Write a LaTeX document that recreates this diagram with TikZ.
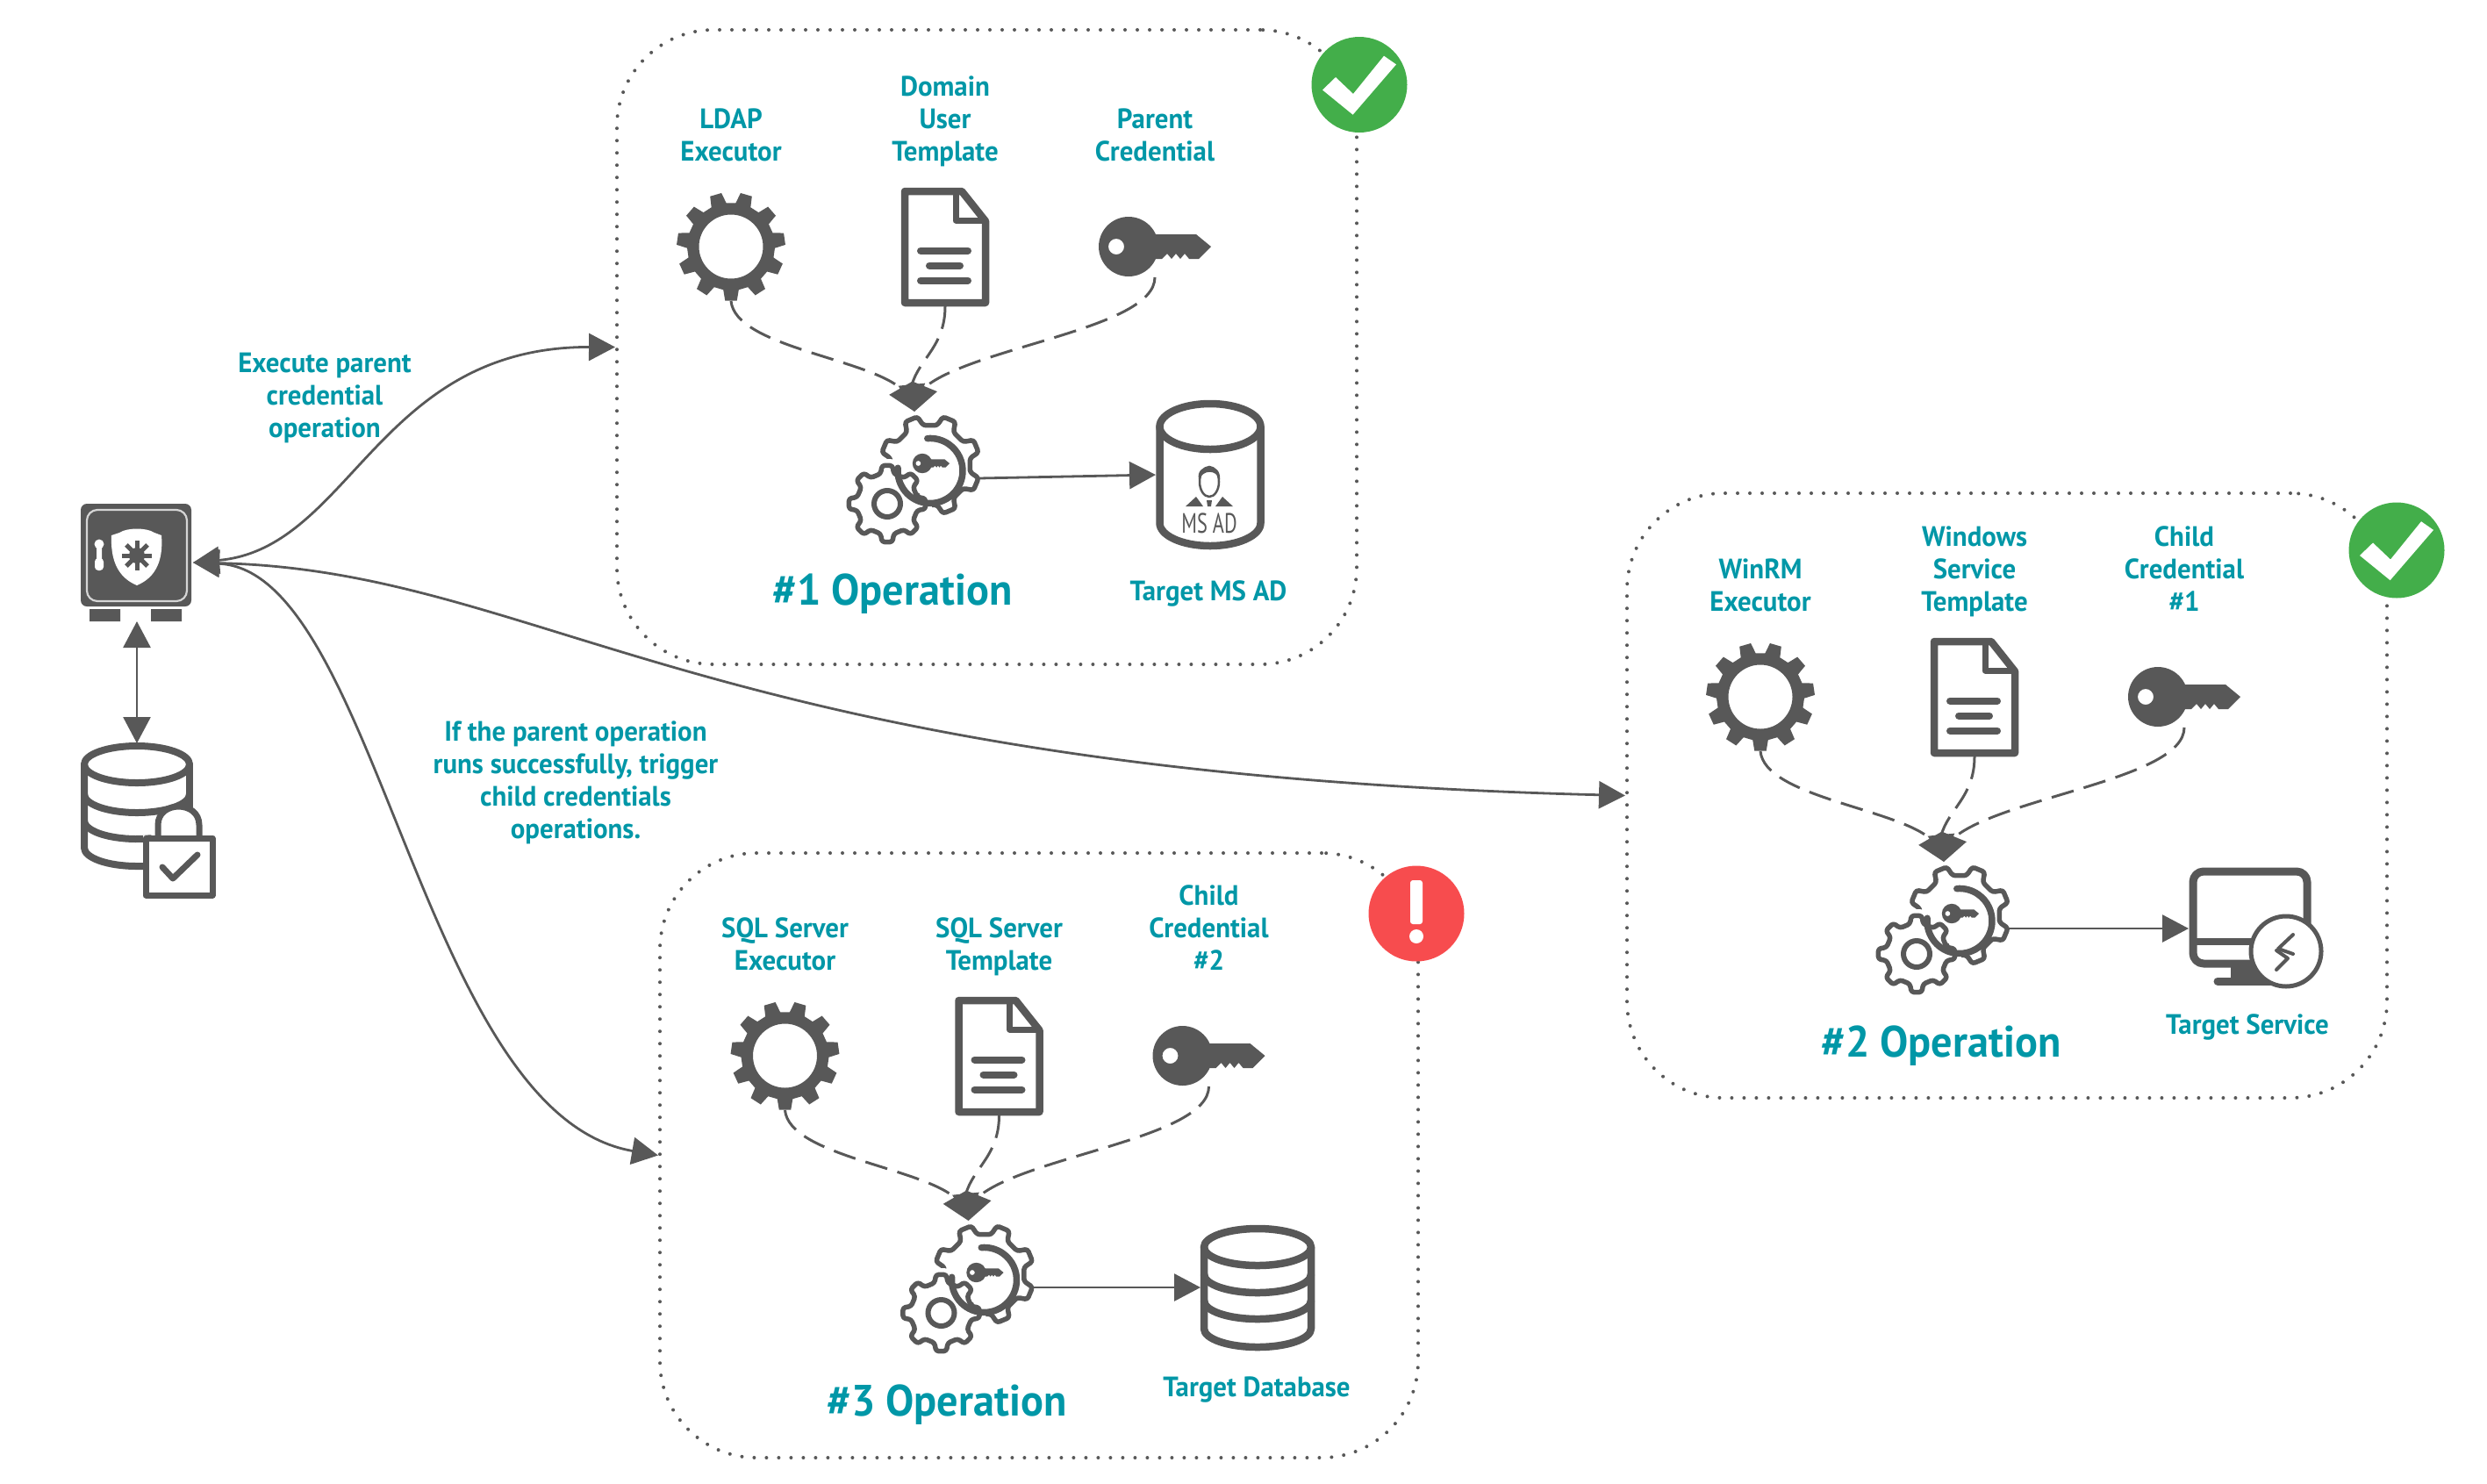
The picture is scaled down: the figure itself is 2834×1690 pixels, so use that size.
\documentclass[tikz,border=0pt]{standalone}
\usepackage{fontspec}
\usetikzlibrary{arrows.meta,calc}
\setmainfont{PT Sans}
\newfontfamily\labfont[FakeStretch=0.965]{PT Sans}
\definecolor{ink}{HTML}{585858}
\definecolor{teal}{HTML}{0097A7}
\definecolor{okgreen}{HTML}{43AE4A}
\definecolor{alertred}{HTML}{F74C4E}
\tikzset{
  hd/.tip={Triangle[length=30pt,width=31pt]},
  hdsmall/.tip={Triangle[length=31pt,width=30pt]},
  conn/.style={draw=ink,line width=2.8pt},
  dashconn/.style={draw=ink,line width=3pt,dash pattern=on 26pt off 12pt,-{hdsmall}},
  opframe/.style={draw=ink,line width=4pt,line cap=round,dash pattern=on 0pt off 14pt,rounded corners=110pt,inner sep=0pt},
  slot/.style={inner sep=0pt,outer sep=0pt},
  lab/.style={text=teal,font=\labfont\bfseries\fontsize{32}{37}\selectfont,align=center,inner sep=0pt},
  optitle/.style={text=teal,font=\labfont\bfseries\fontsize{50}{56}\selectfont,inner sep=0pt},
  ico/.style={draw=ink,line width=8.5pt,line join=round,line cap=round},
  ico2/.style={draw=ink,line width=5.5pt,line join=round,line cap=round},
}
% gear outline: n, outer, root, rotation, tooth half-width at tip, at root
\newcommand\gearring[6]{%
  (#4-#6*360/#1:#3)
  \foreach \k in {1,...,#1}{
    -- (#4+\k*360/#1-360/#1-#5*360/#1:#2)
    -- (#4+\k*360/#1-360/#1+#5*360/#1:#2)
    -- (#4+\k*360/#1-360/#1+#6*360/#1:#3)
    -- (#4+\k*360/#1-#6*360/#1:#3)
  } -- cycle}
\newcommand\drawkey{%
  \fill[ink,even odd rule] (0,0) circle (34pt) (-14,0) circle (9pt);
  \fill[ink] (20,-14) -- (77,-14) -- (94,0) -- (80,14) -- (69,14) -- (64,8) -- (59,14) -- (54,8) -- (49,14) -- (44,8) -- (38,14) -- (20,14) -- cycle;
}
% one operation's icons: prefix, dx, dy, three labels
\newcommand\opicons[6]{%
\begin{scope}[shift={(#2,#3)}]
  \node[slot,minimum width=122pt,minimum height=124pt] (#1-gear) at (833,281) {};
  \node[slot,minimum width=100pt,minimum height=135pt] (#1-doc) at (1077,281.5) {};
  \node[slot,minimum width=136pt,minimum height=70pt] (#1-key) at (1316,281) {};
  \node[slot,minimum width=146pt,minimum height=152pt] (#1-op) at (1042,545) {};
  \node[lab,anchor=south] (#1-la) at (833,195) {#4\strut};
  \node[lab,anchor=south] (#1-lb) at (1077,195) {#5\strut};
  \node[lab,anchor=south] (#1-lc) at (1316,195) {#6\strut};
  % executor gear
  \begin{scope}[shift={(833,281)}]
    \fill[ink,even odd rule] \gearring{11}{62}{50}{90}{0.19}{0.31} (0,0) circle (36.5pt);
  \end{scope}
  % document
  \begin{scope}[shift={(1027,214)}]
    \draw[ico,fill=white] (4,4) -- (69,4) -- (96,38) -- (96,131) -- (4,131) -- cycle;
    \draw[ico,line width=7pt] (62,4) -- (62,37) -- (96,37);
    \draw[draw=ink,line width=8pt,line cap=round] (22,71.5) -- (76,71.5) (32,88.5) -- (67,88.5) (22,105.5) -- (76,105.5);
  \end{scope}
  % key
  \begin{scope}[shift={(1286,281)}]
    \drawkey
  \end{scope}
  % operation gears
  \begin{scope}[shift={(1060,530)}]
    \draw[ico2,rounded corners=3pt] \gearring{8}{57}{46}{22.5}{0.17}{0.28};
  \end{scope}
  \fill[white] (1011,574) circle (51pt);
  \draw[draw=ink,line width=7.5pt,line cap=round] (1060,530) ++(-185:37) arc[start angle=-185,end angle=95,radius=37pt];
  \begin{scope}[shift={(1051,528)},scale=0.33]
    \drawkey
  \end{scope}
  \begin{scope}[shift={(1011,574)}]
    \draw[ico2,rounded corners=3pt] \gearring{8}{44}{35}{0}{0.17}{0.28};
    \draw[ink,line width=6pt] (0,0) circle (15pt);
  \end{scope}
\end{scope}
\draw[dashconn] (#1-gear.south) .. controls +(5,52) and +(-40,-35) .. ($(#1-op.north)+(-15,-26)$) -- (#1-op.north);
\draw[dashconn] (#1-doc.south) .. controls +(0,46) and +(8,-30) .. ($(#1-op.north)+(-3,-30)$) -- (#1-op.north);
\draw[dashconn] (#1-key.south) .. controls +(0,59) and +(55,-47) .. ($(#1-op.north)+(11,-27)$) -- (#1-op.north);
}
\begin{document}
\begin{tikzpicture}[x=1pt,y=-1pt]
\useasboundingbox (0,0) rectangle (2834,1690);
% frames
\node[opframe,minimum width=843pt,minimum height=723pt] (box1) at (1124.5,395.5) {};
\node[opframe,minimum width=866pt,minimum height=689pt] (box2) at (2287,906.5) {};
\node[opframe,minimum width=864pt,minimum height=689pt] (box3) at (1184,1316.5) {};

\opicons{a}{0}{0}{LDAP\\Executor}{Domain\\User\\Template}{Parent\\Credential}
\opicons{b}{1173}{513}{WinRM\\Executor}{Windows\\Service\\Template}{Child\\Credential\\\#1}
\opicons{c}{61.5}{922}{SQL Server\\Executor}{SQL Server\\Template}{Child\\Credential\\\#2}

% titles
\node[optitle] (t1) at (1017,677) {\#1 Operation};
\node[optitle] (t2) at (2212,1192) {\#2 Operation};
\node[optitle] (t3) at (1079,1601) {\#3 Operation};
\node[lab] (n1) at (1377,676) {Target MS AD};
\node[lab] (n2) at (2561,1170) {Target Service};
\node[lab] (n3) at (1432,1584) {Target Database};
\node[lab] (e1) at (370,453) {Execute parent\\credential\\operation};
\node[lab] (e2) at (656,892) {If the parent operation\\runs successfully, trigger\\child credentials\\operations.};

% target MS AD
\node[slot,minimum width=124pt,minimum height=169pt] (tg1) at (1379,541) {};
\draw[ico,fill=white] (1321.5,486) -- (1321.5,596) arc[start angle=180,end angle=360,x radius=57.5pt,y radius=26pt] -- (1436.5,486);
\draw[ico] (1379,486) ellipse [x radius=57.5pt,y radius=26pt];
\draw[ink,line width=2.5pt] (1378,549) ellipse [x radius=11pt,y radius=17pt];
\fill[ink] (1366,546) .. controls (1362,528) and (1392,526) .. (1390,546) .. controls (1385,535) and (1372,535) .. (1366,546) -- cycle;
\fill[ink] (1351,577) -- (1363,566) -- (1371,577) -- cycle (1405,577) -- (1393,566) -- (1385,577) -- cycle (1375,570) -- (1381,570) -- (1380,577) -- (1376,577) -- cycle;
\node[text=ink,font=\labfont\fontsize{29}{30}\selectfont,inner sep=0pt,xscale=0.8,yscale=1.1] (msad) at (1378,596) {MS AD};

% target service
\node[slot,minimum width=140pt,minimum height=133pt] (tg2) at (2564,1058) {};
\draw[ico,line width=9pt,rounded corners=12pt] (2499,993) rectangle (2629,1098);
\draw[draw=ink,line width=8pt] (2497,1073) -- (2630,1073);
\fill[ink] (2542,1098) rectangle (2575,1118);
\draw[draw=ink,line width=9pt,line cap=round] (2527,1118) -- (2590,1118);
\draw[draw=ink,line width=5pt,fill=white] (2605,1084) circle (40pt);
\draw[draw=ink,line width=4pt,line cap=round,line join=round] (2613,1065) -- (2596,1081) -- (2613,1087);
\draw[draw=ink,line width=4pt,line cap=round,line join=round] (2594,1083) -- (2607,1092) -- (2594,1105);

% target database
\node[slot,minimum width=130pt,minimum height=142pt] (tg3) at (1433,1467) {};
\draw[ico] (1372,1421) -- (1372,1514) arc[start angle=180,end angle=360,x radius=61pt,y radius=21pt] -- (1494,1421);
\draw[ico] (1433,1421) ellipse [x radius=61pt,y radius=21pt];
\draw[ico] (1372,1452) arc[start angle=180,end angle=360,x radius=61pt,y radius=21pt];
\draw[ico] (1372,1482) arc[start angle=180,end angle=360,x radius=61pt,y radius=21pt];

% arrows to targets
\draw[conn,-{hd}] (a-op.east) -- (tg1.west);
\draw[conn,-{hd}] (b-op.east) -- (tg2.west);
\draw[conn,-{hd}] (c-op.east) -- (tg3.west);

% vault
\node[slot,minimum width=128pt,minimum height=134pt] (safe) at (156,641) {};
\fill[ink,rounded corners=7pt] (92,574) rectangle (218,691);
\draw[draw=white!75!ink,line width=2.2pt,rounded corners=12pt] (99,581) rectangle (213,685);
\fill[ink] (102,694) rectangle (137,708) (172,694) rectangle (207,708);
\fill[white] (127,610) -- (136,607) .. controls (145,601) and (167,601) .. (176,607) -- (184,610) .. controls (186,635) and (180,657) .. (156,667) .. controls (132,657) and (126,635) .. (127,610) -- cycle;
\foreach \a in {0,45,...,315}{\draw[ink,line width=5pt] (156,633) -- ++(\a:17);}
\fill[ink] (156,633) circle (9pt);
\fill[white] (113,620) circle (5.5pt) (110,622) rectangle (116,638);
\fill[white,rounded corners=4pt] (108,636) rectangle (118,650);

% database with lock
\node[slot,minimum width=128pt,minimum height=176pt] (vault) at (156,935) {};
\draw[ico,line width=8pt] (96,871) -- (96,966) arc[start angle=180,end angle=270,x radius=60pt,y radius=21pt] -- (170,987);
\draw[ico,line width=8pt] (216,871) -- (216,925);
\draw[ico,line width=8pt] (156,871) ellipse [x radius=60pt,y radius=21pt];
\draw[ico,line width=8pt] (96,905) arc[start angle=180,end angle=360,x radius=60pt,y radius=21pt];
\draw[ico,line width=8pt] (96,935) arc[start angle=180,end angle=285,x radius=60pt,y radius=21pt];
\fill[white] (163,952) rectangle (245,1023);
\draw[ico,line width=7pt,fill=white] (180,955) -- (180,940) .. controls (180,912) and (227,912) .. (227,940) -- (227,955);
\draw[ico,line width=7pt,fill=white] (166,955) rectangle (242,1020);
\draw[ico,line width=7pt] (185,988) -- (197,1001) -- (225,974);

\draw[conn,{hd}-{hd}] (safe.south) -- (vault.north);

% main connectors
\draw[conn,{hd}-{hd}] (safe.east) .. controls (400,625) and (430,395) .. (box1.west);
\draw[conn,{hd}-{hd}] (safe.east) .. controls (620,650) and (800,880) .. (box2.west);
\draw[conn,{hd}-{hd}] (safe.east) .. controls (430,650) and (480,1270) .. (box3.west);

% status marks
\node[slot,circle,fill=okgreen,minimum size=109pt] (s1) at (1549,96.5) {};
\fill[white] (1507,102.5) -- (1522,88) -- (1542,107) -- (1577,63.7) -- (1591,73.4) -- (1541.6,130.7) -- cycle;
\node[slot,circle,fill=okgreen,minimum size=109pt] (s2) at (2731,627) {};
\fill[white,shift={(1182,530.5)}] (1507,102.5) -- (1522,88) -- (1542,107) -- (1577,63.7) -- (1591,73.4) -- (1541.6,130.7) -- cycle;
\node[slot,circle,fill=alertred,minimum size=109pt] (s3) at (1614,1041) {};
\fill[white,rounded corners=3pt] (1607,1003) rectangle (1621,1053);
\fill[white] (1614,1067) circle (8pt);
\end{tikzpicture}
\end{document}
